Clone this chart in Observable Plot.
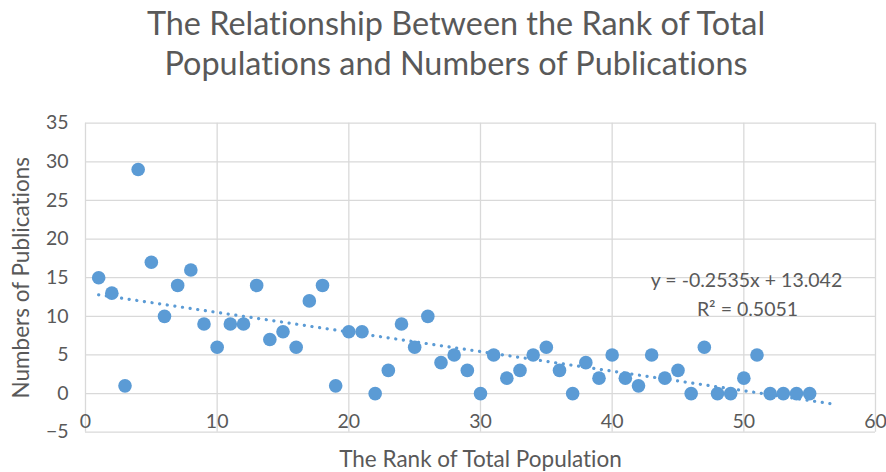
<!DOCTYPE html>
<html>
<head>
<meta charset="utf-8">
<script src="https://cdn.jsdelivr.net/npm/d3@7"></script>
<script src="https://cdn.jsdelivr.net/npm/@observablehq/plot@0.6"></script>
<style>
  body { margin: 0; background: #ffffff; }
  #chart { width: 886px; height: 472px; background: #ffffff; font-family: Lato, "Open Sans", sans-serif; font-variant-ligatures: none; }
  #title { height: 97px; padding-top: 3px; padding-left: 26px; text-align: center; color: #595959; font-size: 32.4px; line-height: 40px; }
  #title div { white-space: nowrap; }
  svg text { font-variant-ligatures: none; }
</style>
</head>
<body>
<div id="chart">
  <div id="title">
    <div>The Relationship Between the Rank of Total</div>
    <div>Populations and Numbers of Publications</div>
  </div>
</div>
<script>
// ---- data ----
const ranks = [1,2,3,4,5,6,7,8,9,10,11,12,13,14,15,16,17,18,19,20,21,22,23,24,25,26,27,28,29,30,31,32,33,34,35,36,37,38,39,40,41,42,43,44,45,46,47,48,49,50,51,52,53,54,55];
const publications = [15,13,1,29,17,10,14,16,9,6,9,9,14,7,8,6,12,14,1,8,8,0,3,9,6,10,4,5,3,0,5,2,3,5,6,3,0,4,2,5,2,1,5,2,3,0,6,0,0,2,5,0,0,0,0];
const xTicks = [0,10,20,30,40,50,60];
const yTicks = [-5,0,5,10,15,20,25,30,35];
const trendSlope = -0.2535;
const trendIntercept = 13.042;
const trendRange = [1, 57];
const equationText = "y = -0.2535x + 13.042";
const r2Text = "R² = 0.5051";
const xLabel = "The Rank of Total Population";
const yLabel = "Numbers of Publications";

const points = ranks.map((r, i) => ({rank: r, pubs: publications[i]}));
const trend = trendRange.map(x => ({x, y: trendSlope * x + trendIntercept}));

const blue = "#5b9bd5";
const grey = "#595959";
const gridColor = "#d9d9d9";

const chart = Plot.plot({
  width: 886,
  height: 372,
  marginTop: 22.7,
  marginBottom: 40.3,
  marginLeft: 85,
  marginRight: 11,
  style: {fontFamily: "Lato, 'Open Sans', sans-serif", color: grey, background: "#ffffff", overflow: "visible"},
  x: {domain: [0, 60]},
  y: {domain: [-5, 35]},
  marks: [
    Plot.gridX(xTicks, {stroke: gridColor, strokeOpacity: 1, strokeWidth: 1.3}),
    Plot.gridY(yTicks, {stroke: gridColor, strokeOpacity: 1, strokeWidth: 1.3}),
    Plot.axisY(yTicks, {tickSize: 0, tickPadding: 17, fontSize: 19.5, label: null, fill: grey}),
    Plot.axisX(xTicks, {tickSize: 0, tickPadding: 3, fontSize: 19.5, label: null, fill: grey, dy: -21}),
    Plot.line(trend, {x: "x", y: "y", stroke: blue, strokeWidth: 3.2, strokeDasharray: "0.1,7.6", strokeLinecap: "round"}),
    Plot.dot(points, {x: "rank", y: "pubs", r: 6.8, fill: blue, stroke: null}),
    Plot.text([equationText], {frameAnchor: "top-left", dx: 661, dy: 158, fontSize: 19.5, fill: grey, textAnchor: "middle", lineAnchor: "middle"}),
    Plot.text([r2Text], {frameAnchor: "top-left", dx: 662, dy: 186.5, fontSize: 19.5, fill: grey, textAnchor: "middle", lineAnchor: "middle"}),
    Plot.text([xLabel], {frameAnchor: "bottom", dy: 27.5, fontSize: 22.5, fill: grey, textAnchor: "middle", lineAnchor: "middle"}),
    Plot.text([yLabel], {frameAnchor: "left", dx: -64, rotate: -90, fontSize: 22.5, fill: grey, textAnchor: "middle", lineAnchor: "middle"})
  ]
});
document.getElementById("chart").appendChild(chart);
</script>
</body>
</html>
